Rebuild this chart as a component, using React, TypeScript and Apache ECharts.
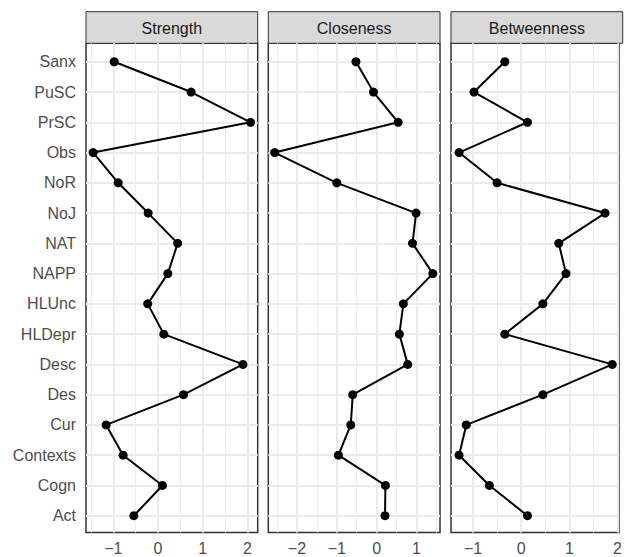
import React, { useEffect, useRef } from "react";
import * as echarts from "echarts";

const categories = ["Sanx", "PuSC", "PrSC", "Obs", "NoR", "NoJ", "NAT", "NAPP", "HLUnc", "HLDepr", "Desc", "Des", "Cur", "Contexts", "Cogn", "Act"];
const panelNames = ["Strength", "Closeness", "Betweenness"];
const strength = [-0.98, 0.74, 2.07, -1.45, -0.89, -0.22, 0.44, 0.22, -0.23, 0.13, 1.90, 0.57, -1.16, -0.78, 0.10, -0.54];
const closeness = [-0.52, -0.08, 0.54, -2.56, -1.0, 0.99, 0.90, 1.41, 0.67, 0.57, 0.78, -0.60, -0.65, -0.96, 0.22, 0.21];
const betweenness = [-0.34, -0.98, 0.13, -1.29, -0.50, 1.74, 0.78, 0.93, 0.45, -0.34, 1.89, 0.45, -1.14, -1.29, -0.66, 0.13];
const xMajor = [[-1, 0, 1, 2], [-2, -1, 0, 1], [-1, 0, 1, 2]];
const xMinor = [[-1.5, -0.5, 0.5, 1.5], [-2.5, -1.5, -0.5, 0.5, 1.5], [-0.5, 0.5, 1.5]];
const xLimits = [[-1.61, 2.23], [-2.72, 1.59], [-1.457, 2.03]];

const FONT = "Liberation Sans, Arial, Helvetica, sans-serif";

export default function App() {
  const ref = useRef<HTMLDivElement>(null);
  useEffect(() => {
    if (!ref.current) return;
    const chart = echarts.init(ref.current, null, { renderer: "svg" });
    const values = [strength, closeness, betweenness];
    const lefts = [86, 268.3, 451];
    const pw = 171.7;
    const top = 43.3;
    const ph = 489.2;
    const stripTop = 11.7;
    const idx = categories.map((_, i) => i);
    const minus = (v: number) => (v < 0 ? "\u2212" + Math.abs(v) : String(v));

    const grids: any[] = [];
    const xAxes: any[] = [];
    const yAxes: any[] = [];
    const series: any[] = [];
    const graphics: any[] = [];

    for (let p = 0; p < 3; p++) {
      grids.push({
        left: lefts[p], top, width: pw, height: ph,
        show: true, backgroundColor: "#ffffff", borderColor: "#333333", borderWidth: 1.5,
        containLabel: false,
      });
      xAxes.push({
        type: "value", gridIndex: p, min: xLimits[p][0], max: xLimits[p][1],
        axisLine: { show: false },
        splitLine: { show: false },
        axisTick: { show: true, customValues: xMajor[p], length: 5, lineStyle: { color: "#333333", width: 1.5 } },
        axisLabel: { show: true, customValues: xMajor[p], formatter: minus, color: "#4D4D4D", fontSize: 16, fontFamily: FONT, margin: 8 },
      });
      yAxes.push({
        type: "value", gridIndex: p, min: -0.61, max: 15.555, inverse: true,
        axisLine: { show: false },
        splitLine: { show: false },
        axisTick: p === 0 ? { show: true, customValues: idx, length: 5, lineStyle: { color: "#333333", width: 1.5 } } : { show: false },
        axisLabel: p === 0
          ? { show: true, customValues: idx, formatter: (v: number) => categories[Math.round(v)] ?? "", color: "#4D4D4D", fontSize: 16, fontFamily: FONT, margin: 10 }
          : { show: false },
      });
      const gridLines = [
        ...xMinor[p].map((v) => ({ xAxis: v, lineStyle: { color: "#EDEDED", width: 1, type: "solid" } })),
        ...xMajor[p].map((v) => ({ xAxis: v, lineStyle: { color: "#EBEBEB", width: 2, type: "solid" } })),
        ...idx.map((v) => ({ yAxis: v, lineStyle: { color: "#EBEBEB", width: 2, type: "solid" } })),
      ];
      series.push({
        type: "line", xAxisIndex: p, yAxisIndex: p, data: [], z: 1, silent: true,
        markLine: { z: 1, silent: true, symbol: ["none", "none"], label: { show: false }, data: gridLines, animation: false },
      });
      series.push({
        type: "line", xAxisIndex: p, yAxisIndex: p, z: 10,
        data: values[p].map((v, i) => [v, i]),
        symbol: "circle", symbolSize: 9, showSymbol: true,
        lineStyle: { color: "#000000", width: 2 },
        itemStyle: { color: "#000000" },
      });
      graphics.push({
        type: "rect",
        shape: { x: lefts[p], y: stripTop, width: pw, height: top - stripTop },
        style: { fill: "#D9D9D9", stroke: "#333333", lineWidth: 1 },
      });
      graphics.push({
        type: "text",
        x: lefts[p] + pw / 2, y: (stripTop + top) / 2 + 0.5,
        style: { text: panelNames[p], fontSize: 16, fontFamily: FONT, fill: "#1A1A1A", textAlign: "center", textVerticalAlign: "middle" },
      });
    }

    chart.setOption({
      animation: false,
      grid: grids,
      xAxis: xAxes,
      yAxis: yAxes,
      series,
      graphic: graphics,
    });
    return () => chart.dispose();
  }, []);
  return <div ref={ref} style={{ position: "absolute", left: 0, top: 0, width: 625, height: 557 }} />;
}
